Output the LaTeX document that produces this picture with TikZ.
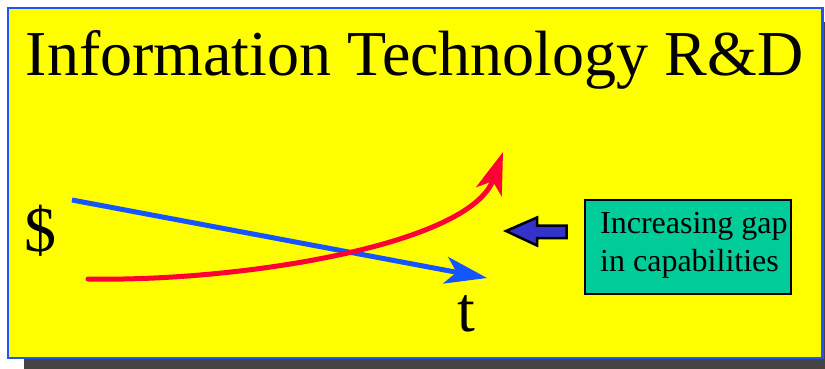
\documentclass[tikz,border=0pt]{standalone}
\usepackage{fontspec}
\setmainfont{Liberation Serif}
\usetikzlibrary{arrows.meta}
\definecolor{frameyellow}{RGB}{255,255,0}
\definecolor{frameblue}{RGB}{30,85,255}
\definecolor{shadowgray}{RGB}{68,68,68}
\definecolor{costblue}{RGB}{20,85,255}
\definecolor{capred}{RGB}{255,0,51}
\definecolor{gapgreen}{RGB}{0,204,153}
\definecolor{pointerblue}{RGB}{51,51,204}
\tikzset{
  bigtext/.style={inner sep=0pt, font=\fontsize{64}{70}\selectfont},
  boxtext/.style={inner sep=0pt, align=left, font=\fontsize{32}{37.5}\selectfont},
  curveline/.style={line width=5pt, -{Stealth[length=42pt,width=27pt,inset=11pt]}},
  gapbox/.style={draw=black, line width=2pt, fill=gapgreen, rectangle, inner sep=0pt},
  pointer/.style={draw=black, line width=2.5pt, fill=pointerblue, line join=miter},
}
\begin{document}
\begin{tikzpicture}[x=1pt,y=-1pt]
\useasboundingbox (0,0) rectangle (825,369);
% shadow and frame
\fill[shadowgray] (23.5,22) rectangle (845,380);
\draw[frameblue, fill=frameyellow, line width=2.7pt] (8,8) rectangle (822.7,358);
% title
\node[bigtext, anchor=base] (title) at (414.5,75) {Information Technology R\&D};
% axis labels
\node[bigtext, anchor=base] (dollar) at (40,251) {\$};
\node[bigtext, anchor=base] (time) at (466,331) {t};
% curves
\coordinate (bstart) at (72,200);
\coordinate (bend) at (487,278);
\coordinate (rstart) at (88,279);
\coordinate (rend) at (503,152);
\draw[curveline, costblue] (bstart) -- (bend);
\draw[curveline, capred, line cap=round] (rstart) .. controls (240,282) and (470,245) .. (rend);
% gap box
\node[gapbox, minimum width=206pt, minimum height=94pt] (gap) at (688,247) {};
\node[boxtext, anchor=base west] (gaptext) at (600,271) {Increasing gap\\in capabilities};
% block arrow pointer
\draw[pointer] (506,231) -- (537,217.5) -- (537,225.5) -- (566.5,225.5) -- (566.5,238) -- (537,238) -- (537,245.5) -- cycle;
\end{tikzpicture}
\end{document}
